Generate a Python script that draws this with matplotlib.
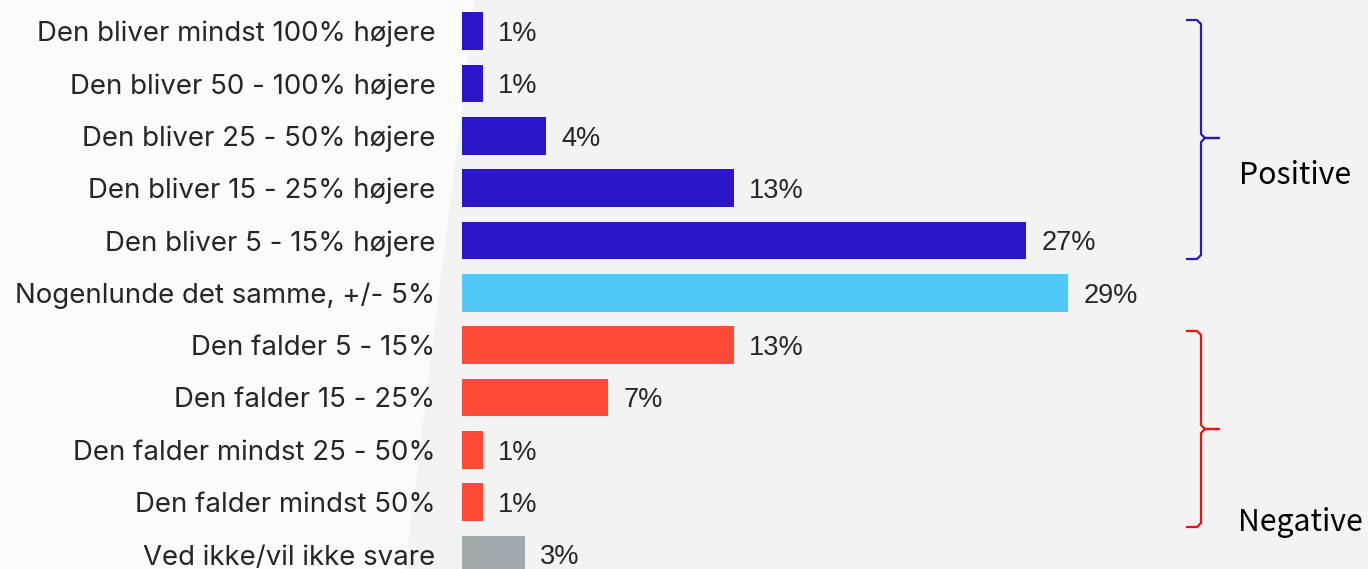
import matplotlib.pyplot as plt
from matplotlib.patches import Polygon
from matplotlib.lines import Line2D

categories = [
    "Den bliver mindst 100% højere",
    "Den bliver 50 - 100% højere",
    "Den bliver 25 - 50% højere",
    "Den bliver 15 - 25% højere",
    "Den bliver 5 - 15% højere",
    "Nogenlunde det samme, +/- 5%",
    "Den falder 5 - 15%",
    "Den falder 15 - 25%",
    "Den falder mindst 25 - 50%",
    "Den falder mindst 50%",
    "Ved ikke/vil ikke svare",
]
values = [1, 1, 4, 13, 27, 29, 13, 7, 1, 1, 3]
groups = ["pos"] * 5 + ["same"] + ["neg"] * 4 + ["dk"]

colors = {"pos": "#2B17C9", "same": "#50C9F8", "neg": "#FF4A38", "dk": "#A2AAAD"}
text_col = "#262626"

W, H = 1368, 569
fig = plt.figure(figsize=(W / 100, H / 100), dpi=100)
fig.patch.set_facecolor("#F3F3F3")

# lighter panel behind the labels, slanted edge
fig.patches.append(Polygon([(0, 1), (475 / W, 1), (405 / W, 0), (0, 0)],
                           closed=True, transform=fig.transFigure,
                           facecolor="#FBFBFB", edgecolor="none", zorder=-1))

x0 = 462
row0, step = 31, 52.35
ax = fig.add_axes([x0 / W, 0, 1 - x0 / W, 1])
ax.set_facecolor("none")
ax.set_xlim(0, (W - x0) / 20.9)
ax.set_ylim((H - row0) / step, -row0 / step)

ys = list(range(len(categories)))
ax.barh(ys, values, height=0.72, color=[colors[g] for g in groups])

for y, v in zip(ys, values):
    ax.annotate(f"{v}%", (v, y), xytext=(11, 0), textcoords="offset points",
                va="center_baseline", ha="left", fontsize=19.5, color=text_col,
                family="Liberation Sans")

ax.set_yticks(ys)
ax.set_yticklabels(categories, fontsize=19.9, color=text_col, family="Inter",
                   va="center_baseline")
ax.tick_params(axis="y", length=0, pad=19)
ax.set_xticks([])
for s in ax.spines.values():
    s.set_visible(False)


def brace(top, mid, bot, color):
    xl, xv, xt = 1186, 1201, 1219
    r = 4
    pts = [(xl, top), (xv - r, top), (xv, top + r), (xv, mid - r), (xv + r, mid),
           (xt, mid), (xv + r, mid), (xv, mid + r), (xv, bot - r), (xv - r, bot), (xl, bot)]
    xs = [p[0] / W for p in pts]
    yv = [1 - p[1] / H for p in pts]
    fig.add_artist(Line2D(xs, yv, transform=fig.transFigure, color=color,
                          lw=1.6, solid_joinstyle="round", solid_capstyle="butt"))


brace(20, 138, 259, "#2B17C9")
brace(331, 429, 527, "#F01010")

fig.text(1239 / W, 1 - 175 / H, "Positive", fontsize=21.8, color="black",
         va="center", ha="left", family="Noto Sans CJK JP")
fig.text(1238 / W, 1 - 523 / H, "Negative", fontsize=21.8, color="black",
         va="center", ha="left", family="Noto Sans CJK JP")

fig.savefig("out.png", dpi=100, facecolor=fig.get_facecolor())
